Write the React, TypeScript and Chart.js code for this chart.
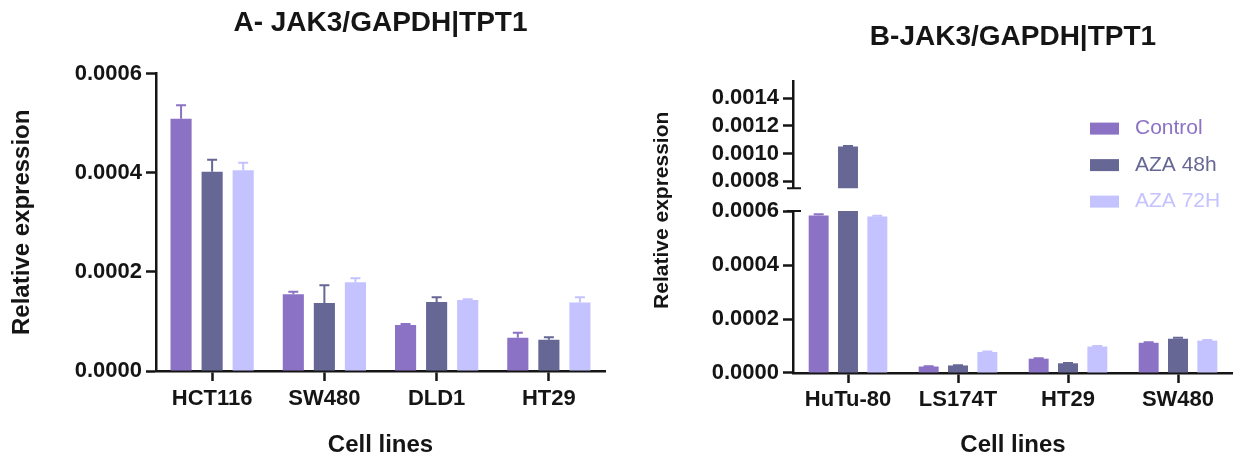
import React, { useEffect, useRef } from 'react';
import { Chart, registerables } from 'chart.js';

Chart.register(...registerables);

const FONT = '"Liberation Sans", Arial, Helvetica, sans-serif';
const INK = '#151515';

// ---------- shared series ----------
const seriesNames = ['Control', 'AZA 48h', 'AZA 72H'];
const seriesColors = ['#8B72C4', '#676796', '#C4C2FF'];
const seriesStacks = ['c', 'a48', 'a72'];

// ---------- Panel A ----------
const titleA = 'A- JAK3/GAPDH|TPT1';
const cellLinesA = ['HCT116', 'SW480', 'DLD1', 'HT29'];
const controlA = [0.000509, 0.000155, 0.000093, 0.000067];
const aza48A = [0.000402, 0.000137, 0.000139, 0.000063];
const aza72A = [0.000405, 0.000179, 0.000143, 0.000138];
const controlErrA = [0.000027, 0.000005, 0.000002, 0.00001];
const aza48ErrA = [0.000024, 0.000036, 0.00001, 0.000005];
const aza72ErrA = [0.000015, 0.000008, 0.000002, 0.000011];
const ticksA = [0, 0.0002, 0.0004, 0.0006];

// ---------- Panel B ----------
const titleB = 'B-JAK3/GAPDH|TPT1';
const cellLinesB = ['HuTu-80', 'LS174T', 'HT29', 'SW480'];
const controlB = [0.000584, 0.000024, 0.000053, 0.000112];
const aza48B = [0.00105, 0.000028, 0.000036, 0.000127];
const aza72B = [0.00058, 0.000078, 0.000098, 0.00012];
const controlErrB = [0.000004, 0.000001, 0.000002, 0.000002];
const aza48ErrB = [0.000005, 0.000001, 0.000001, 0.000004];
const aza72ErrB = [0.000003, 0.000002, 0.000002, 0.000002];
const ticksBLow = [0, 0.0002, 0.0004, 0.0006];
const ticksBHigh = [0.0008, 0.001, 0.0012, 0.0014];
const rangeBLow = [0, 0.0006];
const rangeBHigh = [0.00075, 0.00152];

const xTitle = 'Cell lines';
const yTitle = 'Relative expression';

// ---------- plugins ----------
const errorBarPlugin = {
  id: 'errorBars',
  afterDatasetsDraw(chart: any) {
    const ctx = chart.ctx;
    chart.data.datasets.forEach((ds: any, di: number) => {
      const errs = ds.errors;
      if (!errs) return;
      const meta = chart.getDatasetMeta(di);
      if (meta.hidden) return;
      const ys = chart.scales[meta.yAxisID];
      meta.data.forEach((bar: any, i: number) => {
        const v = ds.data[i];
        const e = errs[i];
        if (v == null || !e) return;
        if (v + e > ys.max || v < ys.min) return;
        const x = bar.x;
        const y0 = ys.getPixelForValue(v);
        const y1 = ys.getPixelForValue(v + e);
        ctx.save();
        ctx.strokeStyle = ds.backgroundColor;
        ctx.lineWidth = 2;
        ctx.beginPath();
        ctx.moveTo(x, y0);
        ctx.lineTo(x, y1);
        ctx.moveTo(x - 5, y1);
        ctx.lineTo(x + 5, y1);
        ctx.stroke();
        ctx.restore();
      });
    });
  },
};

const breakPlugin = {
  id: 'axisBreak',
  afterDraw(chart: any) {
    const lo = chart.scales.yLow;
    const hi = chart.scales.yHigh;
    if (!lo || !hi) return;
    const ctx = chart.ctx;
    const x = lo.right;
    ctx.save();
    ctx.strokeStyle = INK;
    ctx.lineWidth = 2;
    ctx.beginPath();
    ctx.moveTo(x - 6, hi.bottom);
    ctx.lineTo(x + 8, hi.bottom);
    ctx.moveTo(x - 6, lo.top);
    ctx.lineTo(x + 8, lo.top);
    ctx.stroke();
    ctx.restore();
  },
};

// y-axis title for the broken axis (spans both segments)
const sideTitlePlugin = {
  id: 'sideTitle',
  afterDraw(chart: any) {
    const lo = chart.scales.yLow;
    const hi = chart.scales.yHigh;
    if (!lo || !hi) return;
    const ctx = chart.ctx;
    ctx.save();
    ctx.translate(lo.left + 42, (hi.top + lo.bottom) / 2 - 17);
    ctx.rotate(-Math.PI / 2);
    ctx.font = `bold 21px ${FONT}`;
    ctx.fillStyle = INK;
    ctx.textAlign = 'center';
    ctx.textBaseline = 'middle';
    ctx.fillText(yTitle, 0, 0);
    ctx.restore();
  },
};

const insetLegendPlugin = {
  id: 'insetLegend',
  afterDraw(chart: any) {
    const { ctx, chartArea } = chart;
    const x0 = chartArea.right - 143;
    ctx.save();
    ctx.font = `21px ${FONT}`;
    ctx.textBaseline = 'middle';
    ctx.textAlign = 'left';
    seriesNames.forEach((name, i) => {
      const yc = chartArea.top + 47 + i * 36.5;
      ctx.fillStyle = seriesColors[i];
      ctx.fillRect(x0, yc - 6, 29, 12);
      ctx.fillText(name, x0 + 45, yc);
    });
    ctx.restore();
  },
};

// ---------- helpers ----------
const tickFont = { family: FONT, size: 22, weight: 'bold' as const };
const axisTitleFont = { family: FONT, size: 24, weight: 'bold' as const, lineHeight: 1.0 };

function xScale(height: number, pad: number) {
  return {
    grid: {
      display: true,
      offset: false,
      drawOnChartArea: false,
      drawTicks: true,
      tickLength: 10,
      tickWidth: 2.5,
      tickColor: INK,
      color: INK,
    },
    border: { display: true, color: INK, width: 2.5 },
    ticks: { color: INK, font: tickFont, padding: pad, maxRotation: 0, autoSkip: false },
    title: { display: true, text: xTitle, color: INK, font: axisTitleFont, padding: { top: 0, bottom: 0 } },
    afterFit: (s: any) => {
      s.height = height;
    },
  };
}

function yScale(width: number, min: number, max: number, ticks: number[], extra: any = {}) {
  return {
    min,
    max,
    position: 'left',
    grid: {
      display: true,
      drawOnChartArea: false,
      drawTicks: true,
      tickLength: 10,
      tickWidth: 2.5,
      tickColor: INK,
      color: INK,
    },
    border: { display: true, color: INK, width: 2.5 },
    ticks: {
      color: INK,
      font: tickFont,
      padding: 4,
      autoSkip: false,
      callback: (v: any) => Number(v).toFixed(4),
    },
    afterBuildTicks: (s: any) => {
      s.ticks = ticks.map((v) => ({ value: v }));
    },
    afterFit: (s: any) => {
      s.width = width;
    },
    ...extra,
  };
}

function makeConfigA(): any {
  const values = [controlA, aza48A, aza72A];
  const errs = [controlErrA, aza48ErrA, aza72ErrA];
  return {
    type: 'bar',
    data: {
      labels: cellLinesA,
      datasets: seriesNames.map((name, i) => ({
        label: name,
        data: values[i],
        errors: errs[i],
        backgroundColor: seriesColors[i],
        borderWidth: 0,
        yAxisID: 'y',
      })),
    },
    options: {
      animation: false,
      responsive: true,
      maintainAspectRatio: false,
      layout: { padding: { left: 0, right: 15, top: 0, bottom: 0 } },
      datasets: { bar: { categoryPercentage: 0.83, barPercentage: 0.68 } },
      plugins: {
        legend: { display: false },
        tooltip: { enabled: false },
        title: {
          display: true,
          text: titleA,
          fullSize: false,
          color: INK,
          font: { family: FONT, size: 28, weight: 'bold', lineHeight: 1.2 },
          padding: { top: 6, bottom: 34 },
        },
      },
      scales: {
        x: xScale(86, 5),
        y: yScale(156, 0, 0.0006, ticksA, {
          title: {
            display: true,
            text: yTitle,
            color: INK,
            font: axisTitleFont,
            padding: { top: 10, bottom: 0 },
          },
        }),
      },
    },
    plugins: [errorBarPlugin],
  };
}

function makeConfigB(): any {
  const values = [controlB, aza48B, aza72B];
  const errs = [controlErrB, aza48ErrB, aza72ErrB];
  const lowSets = seriesNames.map((name, i) => ({
    label: name,
    data: values[i],
    errors: errs[i],
    backgroundColor: seriesColors[i],
    borderWidth: 0,
    stack: seriesStacks[i],
    yAxisID: 'yLow',
  }));
  const highSets = seriesNames.map((name, i) => ({
    label: name + ' (upper)',
    data: values[i].map((v) => (v > rangeBHigh[0] ? v : null)),
    errors: errs[i],
    backgroundColor: seriesColors[i],
    borderWidth: 0,
    stack: seriesStacks[i],
    yAxisID: 'yHigh',
  }));
  return {
    type: 'bar',
    data: { labels: cellLinesB, datasets: [...lowSets, ...highSets] },
    options: {
      animation: false,
      responsive: true,
      maintainAspectRatio: false,
      layout: { padding: { left: 0, right: 0, top: 0, bottom: 0 } },
      datasets: { bar: { categoryPercentage: 0.8, barPercentage: 0.68 } },
      plugins: {
        legend: { display: false },
        tooltip: { enabled: false },
        title: {
          display: true,
          text: titleB,
          fullSize: false,
          color: INK,
          font: { family: FONT, size: 28, weight: 'bold', lineHeight: 1.2 },
          padding: { top: 20, bottom: 28 },
        },
      },
      scales: {
        x: xScale(84, 4),
        yLow: yScale(173, rangeBLow[0], rangeBLow[1], ticksBLow, {
          stack: 'yb',
          stackWeight: 162,
          stacked: false,
        }),
        yGap: {
          type: 'linear',
          position: 'left',
          stack: 'yb',
          stackWeight: 23,
          min: 0,
          max: 1,
          grid: { display: false, drawOnChartArea: false },
          border: { display: false },
          ticks: { display: false },
          afterFit: (s: any) => {
            s.width = 173;
          },
        },
        yHigh: yScale(173, rangeBHigh[0], rangeBHigh[1], ticksBHigh, {
          stack: 'yb',
          stackWeight: 106.6,
          stacked: false,
        }),
      },
    },
    plugins: [errorBarPlugin, breakPlugin, sideTitlePlugin, insetLegendPlugin],
  };
}

function ChartPanel({ make, width }: { make: () => any; width: number }) {
  const ref = useRef<HTMLCanvasElement | null>(null);
  useEffect(() => {
    if (!ref.current) return;
    const chart = new Chart(ref.current, make());
    return () => chart.destroy();
  }, [make]);
  return (
    <div style={{ position: 'relative', width, height: 457, flex: '0 0 auto' }}>
      <canvas ref={ref} />
    </div>
  );
}

export default function App() {
  return (
    <div
      style={{
        position: 'fixed',
        left: 0,
        top: 0,
        width: 1233,
        height: 457,
        display: 'flex',
        background: '#ffffff',
      }}
    >
      <ChartPanel make={makeConfigA} width={620} />
      <ChartPanel make={makeConfigB} width={613} />
    </div>
  );
}
